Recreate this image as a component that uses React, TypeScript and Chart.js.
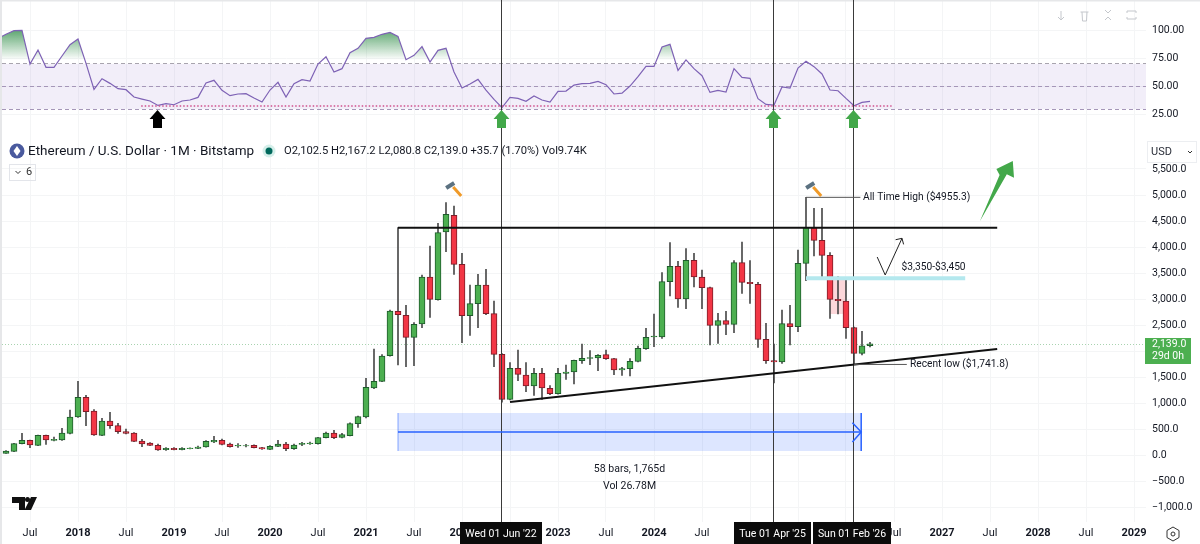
import React, { useEffect, useRef } from "react";
import { Chart, registerables } from "chart.js";

Chart.register(...registerables);

// monthly bars, first one is Apr 2017
const candleOpen = [
  32, 70, 218, 282, 186, 378, 282, 288, 417, 731, 1109, 846, 378, 654, 564, 449, 423, 269, 231, 186, 103, 128, 103, 122, 128, 154, 250, 282, 212, 173, 176, 186, 141, 109, 167, 212, 122, 205, 218, 218, 333, 423, 340, 372, 603, 731, 1288, 1417, 1910, 2763, 2686, 2263, 2519, 3423, 2987, 4288, 4609, 3667, 2679, 2910, 3269, 2718, 1936, 1070, 1667, 1538, 1327, 1571, 1282, 1179, 1571, 1596, 1814, 1859, 1865, 1929, 1853, 1635, 1660, 1801, 2045, 2269, 2269, 3333, 3628, 3000, 3743, 3423, 3218, 2494, 2583, 2513, 3699, 3320, 3282, 2224, 1814, 1788, 2526, 2468, 3686, 4372, 4128, 3840, 2994, 2961, 2449, 1955, 2102.5,
];
const candleClose = [
  77, 218, 282, 192, 378, 288, 301, 423, 731, 1109, 833, 385, 654, 564, 449, 417, 263, 212, 186, 96, 128, 103, 128, 135, 154, 263, 282, 205, 160, 186, 182, 141, 115, 167, 212, 122, 192, 224, 231, 333, 423, 333, 391, 603, 737, 1301, 1417, 1904, 2769, 2699, 2263, 2513, 3423, 2994, 4276, 4628, 3667, 2679, 2910, 3269, 2718, 1936, 1070, 1667, 1551, 1327, 1571, 1288, 1179, 1571, 1596, 1820, 1859, 1872, 1917, 1853, 1635, 1660, 1801, 2051, 2263, 2288, 3333, 3628, 3000, 3743, 3423, 3218, 2494, 2583, 2513, 3699, 3320, 3295, 2224, 1814, 1788, 2526, 2468, 3686, 4372, 4128, 3840, 2994, 2968, 2449, 1955, 2102, 2139,
];
const candleHigh = [
  83, 225, 417, 285, 385, 385, 346, 513, 865, 1417, 1147, 872, 705, 820, 609, 500, 430, 301, 237, 212, 141, 141, 145, 140, 170, 280, 359, 308, 230, 218, 205, 196, 150, 183, 282, 244, 212, 244, 250, 340, 440, 474, 417, 620, 750, 1474, 2038, 1930, 2788, 4372, 2878, 2545, 3461, 4019, 4455, 4853, 4789, 3878, 3269, 3474, 3570, 2961, 1950, 1776, 2019, 1776, 1667, 1667, 1333, 1667, 1731, 1827, 2135, 2006, 1930, 2019, 1860, 1686, 1855, 2096, 2436, 2712, 3506, 4083, 3724, 3968, 3878, 3558, 3230, 2724, 2763, 3737, 4096, 3737, 3320, 2532, 2135, 2788, 2878, 3942, 4955, 4744, 4744, 3891, 3429, 3397, 2460, 2378, 2167.2,
];
const candleLow = [
  29, 64, 215, 141, 180, 205, 269, 283, 404, 724, 564, 378, 372, 513, 417, 404, 256, 160, 180, 90, 90, 96, 96, 118, 122, 150, 237, 192, 150, 147, 154, 135, 108, 105, 160, 83, 109, 180, 205, 210, 327, 314, 330, 365, 532, 715, 1276, 1410, 1900, 1731, 1699, 1718, 2449, 2647, 2980, 3910, 3474, 2160, 2301, 2449, 2700, 1699, 1017, 1060, 1429, 1218, 1147, 1070, 1160, 1170, 1455, 1365, 1763, 1737, 1622, 1840, 1545, 1532, 1519, 1790, 2032, 2083, 2243, 3058, 2840, 2814, 3231, 2814, 2115, 2147, 2314, 2352, 3109, 2916, 2070, 1763, 1385, 1763, 2115, 2372, 3353, 3827, 3430, 2628, 2711, 2244, 1741.8, 1923, 2080.8,
];

// rsi pane, first value sits one bar left of the first candle
const rsiValues = [
  92.6, 96.2, 99.4, 99.7, 69.9, 82.3, 67, 67, 77, 87, 92, 70.5, 47.5, 56.9, 52.8, 48.1, 47.2, 40.7, 38.9, 37.2, 33.3, 34.8, 33.9, 37.2, 38.1, 40.4, 53.1, 55.5, 46.6, 41.9, 43.4, 43.7, 39.8, 36.3, 46.9, 53.7, 40.7, 52.5, 56, 54.9, 69.9, 76.4, 62.8, 65.8, 79.9, 83.8, 92.6, 93.5, 96.2, 97.9, 94.4, 73.7, 77.6, 85.3, 71.7, 82, 83.8, 62.8, 48.7, 52.2, 56.3, 46.9, 38.6, 31.3, 40.4, 39.5, 36.9, 41.6, 38.1, 36.3, 45.7, 46, 51.3, 52.5, 52.8, 54.6, 51.6, 43.4, 44.2, 50.4, 58.7, 67.8, 67.8, 85, 87.3, 64.3, 73.5, 65.8, 59.6, 44.8, 46.6, 45.1, 65.8, 58.1, 57.2, 39.2, 34.2, 33.6, 49.6, 48.7, 66.4, 72.3, 67.6, 61.1, 46.9, 46.3, 39.5, 33, 36, 36.9,
];

const xTickValues = [3, 9, 15, 21, 27, 33, 39, 45, 51, 57, 63, 69, 75, 81, 87, 93, 99, 105, 111, 117, 123, 129, 135, 141];
const xTickLabels = ["Jul", "2018", "Jul", "2019", "Jul", "2020", "Jul", "2021", "Jul", "2022", "Jul", "2023", "Jul", "2024", "Jul", "2025", "Jul", "2026", "Jul", "2027", "Jul", "2028", "Jul", "2029"];
const priceTicks = [-1000, -500, 0, 500, 1000, 1500, 2000, 2500, 3000, 3500, 4000, 4500, 5000, 5500];
const rsiTicks = [25, 50, 75, 100];

const rsiLevels = [70, 50, 30];
const markerBars = [62, 96, 106];
const markerLabels = ["Wed 01 Jun '22", "Tue 01 Apr '25", "Sun 01 Feb '26"];
const FONT = "Roboto";
const TEXT = "#131722";

const App: React.FC = () => {
  const canvasRef = useRef<HTMLCanvasElement | null>(null);

  useEffect(() => {
    document.body.style.margin = "0";
    const canvas = canvasRef.current;
    if (!canvas) return;
    const ctx = canvas.getContext("2d");
    if (!ctx) return;

    const bars = candleOpen.map((_, i) => i);
    const isUp = (i: number) => candleClose[i] >= candleOpen[i];

    const overbought = ctx.createLinearGradient(0, 25, 0, 60);
    overbought.addColorStop(0, "rgba(46,140,70,0.9)");
    overbought.addColorStop(1, "rgba(46,140,70,0)");

    // everything that TradingView draws on top of the series
    const drawings = {
      id: "drawings",
      beforeDatasetsDraw(chart: any) {
        const { ctx: c, scales } = chart;
        const { x, yPrice, yRsi } = scales;
        const area = chart.chartArea;
        c.save();
        c.fillStyle = "rgba(126,87,194,0.1)";
        c.fillRect(2, yRsi.getPixelForValue(70), area.right - 2, yRsi.getPixelForValue(30) - yRsi.getPixelForValue(70));
        c.setLineDash([4, 3]);
        c.lineWidth = 1;
        rsiLevels.forEach((lvl) => {
          const y = Math.floor(yRsi.getPixelForValue(lvl)) + 0.5;
          c.strokeStyle = lvl === 70 ? "#a8a4ae" : "#a596b8";
          c.beginPath();
          c.moveTo(2, y);
          c.lineTo(area.right, y);
          c.stroke();
        });
        c.setLineDash([]);
        // blue date range box
        c.fillStyle = "rgba(41,98,255,0.16)";
        c.fillRect(x.getPixelForValue(49), yPrice.getPixelForValue(808), x.getPixelForValue(106.9) - x.getPixelForValue(49), yPrice.getPixelForValue(77) - yPrice.getPixelForValue(808));
        // pink box on the last leg down
        c.fillStyle = "rgba(242,54,69,0.2)";
        c.fillRect(x.getPixelForValue(103), yPrice.getPixelForValue(3423), x.getPixelForValue(105) - x.getPixelForValue(103), yPrice.getPixelForValue(2712) - yPrice.getPixelForValue(3423));
        // last price line
        c.strokeStyle = "#a9d3b0";
        c.setLineDash([1, 2]);
        const py = Math.round(yPrice.getPixelForValue(2139)) + 0.5;
        c.beginPath();
        c.moveTo(2, py);
        c.lineTo(area.right, py);
        c.stroke();
        c.restore();
      },
      afterDraw(chart: any) {
        const { ctx: c, scales } = chart;
        const { x, yPrice, yRsi } = scales;
        const area = chart.chartArea;
        const px = (i: number) => x.getPixelForValue(i);
        const py = (v: number) => yPrice.getPixelForValue(v);
        const line = (pts: number[][], color: string, width: number, dash: number[] = []) => {
          c.strokeStyle = color;
          c.lineWidth = width;
          c.setLineDash(dash);
          c.beginPath();
          pts.forEach((p, k) => (k ? c.lineTo(px(p[0]), py(p[1])) : c.moveTo(px(p[0]), py(p[1]))));
          c.stroke();
          c.setLineDash([]);
        };
        const text = (s: string, tx: number, ty: number, font: string, color = TEXT, align = "left") => {
          c.font = font;
          c.fillStyle = color;
          c.textAlign = align;
          c.textBaseline = "middle";
          c.fillText(s, tx, ty);
        };
        c.save();

        // window edges
        c.fillStyle = "#e6e7e9";
        c.fillRect(0, 0, 2, 544);
        c.fillRect(0, 0, 1200, 1.5);

        // rsi support line
        c.strokeStyle = "#d0508c";
        c.lineWidth = 1.5;
        c.setLineDash([1.5, 2]);
        const sy = yRsi.getPixelForValue(32.7);
        c.beginPath();
        c.moveTo(px(16.9), sy);
        c.lineTo(px(110.7), sy);
        c.stroke();
        c.setLineDash([]);

        // vertical date markers
        c.strokeStyle = "#3a3a3a";
        c.lineWidth = 1;
        markerBars.forEach((b) => {
          const vx = Math.round(px(b)) - 0.5;
          c.beginPath();
          c.moveTo(vx, 0);
          c.lineTo(vx, area.bottom);
          c.stroke();
        });

        // block arrows under the rsi lows
        const blockArrow = (i: number, color: string) => {
          const ax = px(i) - 0.5;
          c.fillStyle = color;
          c.beginPath();
          c.moveTo(ax, 110);
          c.lineTo(ax + 8, 119);
          c.lineTo(ax + 4.5, 119);
          c.lineTo(ax + 4.5, 128);
          c.lineTo(ax - 4.5, 128);
          c.lineTo(ax - 4.5, 119);
          c.lineTo(ax - 8, 119);
          c.closePath();
          c.fill();
        };
        blockArrow(19, "#000000");
        markerBars.forEach((b) => blockArrow(b, "#43a84a"));

        // trend lines
        line([[49, 4372], [123.9, 4372]], "#111111", 2);
        line([[63, 1019], [123.9, 2038]], "#111111", 2);
        // resistance zone
        line([[100, 3400], [119.9, 3400]], "#b4e8ee", 4);

        // v-shaped arrow
        line([[108.9, 3808], [109.9, 3462], [112, 4167]], "#222222", 1);
        line([[111.2, 4140], [112, 4167], [112.2, 4050]], "#222222", 1);

        // big green arrow
        c.fillStyle = "#43a84a";
        c.beginPath();
        [[121.75, 4500], [124.2, 5385], [123.8, 5500], [125.85, 5654], [126, 5330], [125.1, 5400]].forEach((p, k) =>
          k ? c.lineTo(px(p[0]), py(p[1])) : c.moveTo(px(p[0]), py(p[1]))
        );
        c.closePath();
        c.fill();

        // measure arrow
        line([[49, 442], [106.9, 442]], "#2962ff", 1.5);
        line([[49, 808], [49, 77]], "rgba(41,98,255,0.55)", 1);
        line([[106.9, 808], [106.9, 77]], "#2962ff", 1.5);
        line([[105.8, 620], [106.9, 442], [105.8, 250]], "#2962ff", 1.5);

        // callouts
        line([[100, 4955], [106.8, 4955]], "#555555", 1);
        line([[106, 1741.8], [112.6, 1741.8]], "#555555", 1);
        const labelFont = `10.2px ${FONT}`;
        text("All Time High ($4955.3)", 863, 197.5, labelFont);
        text("Recent low ($1,741.8)", 910, 364.5, labelFont);
        text("$3,350-$3,450", 901.5, 267.5, labelFont);
        text("58 bars, 1,765d", 629.5, 469.5, `10.5px ${FONT}`, TEXT, "center");
        text("Vol 26.78M", 629.5, 486, `10.5px ${FONT}`, TEXT, "center");

        // hammers
        [56.9, 101.9].forEach((b) => {
          const hx = px(b);
          c.strokeStyle = "#f09a28";
          c.lineWidth = 3;
          c.beginPath();
          c.moveTo(hx - 8, 187);
          c.lineTo(hx, 196);
          c.stroke();
          c.strokeStyle = "#5b7180";
          c.lineWidth = 4;
          c.beginPath();
          c.moveTo(hx - 15, 188);
          c.lineTo(hx - 7, 183);
          c.stroke();
        });

        // legend row
        c.fillStyle = "#4a5a9e";
        c.beginPath();
        c.arc(17, 151, 7.5, 0, Math.PI * 2);
        c.fill();
        c.fillStyle = "#ffffff";
        c.beginPath();
        c.moveTo(17, 146);
        c.lineTo(20.5, 151);
        c.lineTo(17, 156);
        c.lineTo(13.5, 151);
        c.closePath();
        c.fill();
        text("Ethereum / U.S. Dollar · 1M · Bitstamp", 28, 151.5, `13.5px ${FONT}`);
        c.fillStyle = "#d5efea";
        c.beginPath();
        c.arc(269, 151, 6.5, 0, Math.PI * 2);
        c.fill();
        c.fillStyle = "#00695c";
        c.beginPath();
        c.arc(269, 151, 3.5, 0, Math.PI * 2);
        c.fill();
        text("O2,102.5 H2,167.2 L2,080.8 C2,139.0 +35.7 (1.70%) Vol9.74K", 284, 151.5, `11.2px ${FONT}`);

        // collapsed indicators button
        c.strokeStyle = "#e3e5ea";
        c.lineWidth = 1;
        c.strokeRect(9.5, 164.5, 26, 16);
        c.strokeStyle = "#333333";
        c.beginPath();
        c.moveTo(15.5, 171);
        c.lineTo(18, 173.5);
        c.lineTo(20.5, 171);
        c.stroke();
        text("6", 26, 172.5, `11px ${FONT}`, "#333333");

        // pane buttons
        c.strokeStyle = "#c4c7cc";
        c.lineWidth = 1;
        c.beginPath();
        c.moveTo(1061, 11);
        c.lineTo(1061, 20);
        c.moveTo(1058, 17);
        c.lineTo(1061, 20);
        c.lineTo(1064, 17);
        c.moveTo(1080.5, 12);
        c.lineTo(1088.5, 12);
        c.moveTo(1082, 12);
        c.lineTo(1082.5, 21);
        c.lineTo(1086.5, 21);
        c.lineTo(1087, 12);
        c.moveTo(1105, 10);
        c.lineTo(1108, 13);
        c.lineTo(1111, 10);
        c.moveTo(1105, 20);
        c.lineTo(1108, 17);
        c.lineTo(1111, 20);
        c.moveTo(1127, 13);
        c.lineTo(1127, 11);
        c.lineTo(1136, 11);
        c.lineTo(1136, 13);
        c.moveTo(1127, 17);
        c.lineTo(1127, 19);
        c.lineTo(1136, 19);
        c.lineTo(1136, 17);
        c.stroke();

        // currency button
        c.fillStyle = "#ffffff";
        c.fillRect(1147, 141, 50, 22);
        c.strokeStyle = "#eceef1";
        c.strokeRect(1147.5, 141.5, 49, 21);
        text("USD", 1151, 152, `11px ${FONT}`, "#2a2e39");
        c.strokeStyle = "#333333";
        c.beginPath();
        c.moveTo(1188, 151);
        c.lineTo(1190, 153);
        c.lineTo(1192, 151);
        c.stroke();

        // last price tag
        c.fillStyle = "#4caf50";
        c.fillRect(1145, 338, 46, 26);
        text("2,139.0", 1152, 344.5, `10.5px ${FONT}`, "#ffffff");
        text("29d 0h", 1152, 356.5, `10.5px ${FONT}`, "#ffffff");

        // date labels on the time axis
        const boxes = [[460, 82], [734, 77], [813, 78]];
        markerBars.forEach((_, k) => {
          c.fillStyle = "#0b0b0b";
          c.fillRect(boxes[k][0], 522, boxes[k][1], 22);
          text(markerLabels[k], boxes[k][0] + boxes[k][1] / 2, 534, `10.5px ${FONT}`, "#ffffff", "center");
        });

        // tradingview mark
        c.fillStyle = "#111111";
        c.beginPath();
        c.moveTo(12, 497);
        c.lineTo(25, 497);
        c.lineTo(25, 510);
        c.lineTo(19, 510);
        c.lineTo(19, 503);
        c.lineTo(12, 503);
        c.closePath();
        c.moveTo(31, 497);
        c.lineTo(37, 497);
        c.lineTo(31, 510);
        c.lineTo(24.5, 510);
        c.closePath();
        c.fill();
        c.beginPath();
        c.arc(27.5, 499.5, 2.5, 0, Math.PI * 2);
        c.fill();

        // settings hexagon
        c.strokeStyle = "#333333";
        c.lineWidth = 1;
        c.beginPath();
        [[1173, 527], [1179, 530.5], [1179, 537.5], [1173, 541], [1167, 537.5], [1167, 530.5]].forEach((p, k) =>
          k ? c.lineTo(p[0], p[1]) : c.moveTo(p[0], p[1])
        );
        c.closePath();
        c.stroke();
        c.beginPath();
        c.arc(1173, 534, 2, 0, Math.PI * 2);
        c.stroke();

        c.restore();
      },
    };

    const gridColor = "#f4f5f6";

    // no tick label padding on the sides, the panes must fill the canvas
    const fitY = (s: any) => {
      s.width = 54;
      s.paddingTop = 0;
      s.paddingBottom = 0;
    };
    const fitX = (s: any) => {
      s.height = 22;
      s.paddingLeft = 0;
      s.paddingRight = 0;
    };

    const chart = new Chart(ctx, {
      type: "bar",
      plugins: [drawings],
      data: {
        datasets: [
          {
            // wicks
            xAxisID: "x",
            yAxisID: "yPrice",
            data: bars.map((i) => ({ x: i, y: [candleLow[i], candleHigh[i]] })),
            backgroundColor: "#4a4a4a",
            barThickness: 1,
            grouped: false,
            order: 2,
          },
          {
            // bodies
            xAxisID: "x",
            yAxisID: "yPrice",
            data: bars.map((i) => ({ x: i, y: [candleOpen[i], candleClose[i]] })),
            backgroundColor: bars.map((i) => (isUp(i) ? "#4caf50" : "#f23645")),
            borderColor: bars.map((i) => (isUp(i) ? "#1e5b2c" : "#7d1d28")),
            borderWidth: 1,
            borderSkipped: false,
            barThickness: 6,
            grouped: false,
            order: 1,
          },
          {
            type: "line",
            xAxisID: "x",
            yAxisID: "yRsi",
            data: rsiValues.map((v, k) => ({ x: k - 1, y: v })),
            borderColor: "#7e62b5",
            borderWidth: 1.2,
            pointRadius: 0,
            tension: 0,
            fill: { target: { value: 70 }, above: overbought, below: "rgba(0,0,0,0)" },
            order: 0,
          },
        ] as any,
      },
      options: {
        responsive: false,
        animation: false,
        events: [],
        layout: { padding: 0 },
        plugins: { legend: { display: false }, tooltip: { enabled: false } },
        scales: {
          x: {
            type: "linear",
            position: "bottom",
            offset: false,
            min: -0.75,
            max: 142.5,
            afterFit: fitX,
            afterBuildTicks: (s: any) => {
              s.ticks = xTickValues.map((value) => ({ value }));
            },
            grid: { color: gridColor, drawTicks: false, offset: false },
            border: { display: false },
            ticks: {
              autoSkip: false,
              maxRotation: 0,
              padding: 5,
              color: TEXT,
              callback: (value: any) => xTickLabels[xTickValues.indexOf(value)],
              font: (c: any) => ({
                family: FONT,
                size: 11,
                weight: /^\d/.test(String(c.tick?.label)) ? "bold" : "normal",
              }),
            },
          },
          yRsi: {
            type: "linear",
            position: "right",
            stack: "panes",
            stackWeight: 134,
            weight: 0,
            min: 8,
            max: 126.55,
            afterFit: fitY,
            afterBuildTicks: (s: any) => {
              s.ticks = rsiTicks.map((value) => ({ value }));
            },
            grid: { color: gridColor, drawTicks: false },
            border: { display: false },
            ticks: {
              autoSkip: false,
              padding: 6,
              color: TEXT,
              font: { family: FONT, size: 10.5 },
              callback: (value: any) => Number(value).toFixed(2),
            },
          },
          yPrice: {
            type: "linear",
            position: "right",
            stack: "panes",
            stackWeight: 388,
            weight: 1,
            min: -1288,
            max: 6173,
            afterFit: fitY,
            afterBuildTicks: (s: any) => {
              s.ticks = priceTicks.map((value) => ({ value }));
            },
            grid: { color: gridColor, drawTicks: false },
            border: { display: false },
            ticks: {
              autoSkip: false,
              padding: 6,
              color: TEXT,
              font: { family: FONT, size: 10.5 },
              callback: (value: any) => {
                const n = Number(value);
                const s = Math.abs(n).toLocaleString("en-US", { minimumFractionDigits: 1, maximumFractionDigits: 1 });
                return n < 0 ? "\u2212" + s : s;
              },
            },
          },
        },
      } as any,
    });

    return () => {
      chart.destroy();
    };
  }, []);

  return <canvas ref={canvasRef} width={1200} height={544} style={{ display: "block" }} />;
};

export default App;
